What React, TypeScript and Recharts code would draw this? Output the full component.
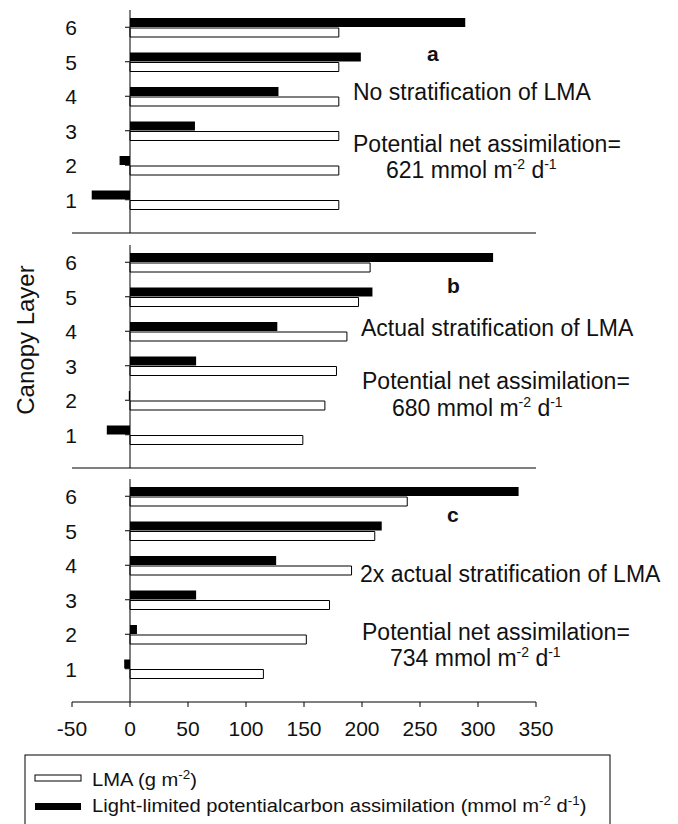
import React from 'react'
import { BarChart, Bar, XAxis, YAxis, ReferenceLine } from 'recharts'

// canopy layers, top of canopy first
const layers = ['6', '5', '4', '3', '2', '1']

// panel a: no stratification of LMA
const lmaA = [180, 180, 180, 180, 180, 180]
const assimA = [289, 199, 128, 56, -9, -33]

// panel b: actual stratification
const lmaB = [207, 197, 187, 178, 168, 149]
const assimB = [313, 209, 127, 57, -1, -20]

// panel c: 2x actual stratification
const lmaC = [239, 211, 191, 172, 152, 115]
const assimC = [335, 217, 126, 57, 6, -5]

const xTicks = [-50, 0, 50, 100, 150, 200, 250, 300, 350]

const FONT = 'Arial, "Liberation Sans", sans-serif'
const CHART_W = 678
const MARGIN = { top: 10, right: 142, left: 12, bottom: 0 }
const Y_AXIS_W = 60
const PLOT_LEFT = MARGIN.left + Y_AXIS_W
const PLOT_RIGHT = CHART_W - MARGIN.right
const zeroX =
  PLOT_LEFT + ((0 - xTicks[0]) / (xTicks[xTicks.length - 1] - xTicks[0])) * (PLOT_RIGHT - PLOT_LEFT)

function LayerTick(props: any) {
  const { y, payload } = props
  return (
    <g>
      <line x1={zeroX - 5} x2={zeroX} y1={y} y2={y} stroke="#000" strokeWidth={1} />
      <text x={71} y={y} dy={8} textAnchor="middle" fontSize={21} fontFamily={FONT} fill="#111">
        {payload.value}
      </text>
    </g>
  )
}

interface PanelProps {
  lma: number[]
  assim: number[]
  top: number
  labels?: boolean
}

function Panel({ lma, assim, top, labels }: PanelProps) {
  const data = layers.map((layer, i) => ({ layer, lma: lma[i], assim: assim[i] }))
  const axisH = labels ? 67 : 27
  return (
    <div style={{ position: 'absolute', left: 0, top }}>
      <BarChart
        width={CHART_W}
        height={10 + 223 + axisH}
        data={data}
        layout="vertical"
        margin={MARGIN}
        barSize={9}
        barGap={1}
      >
        <XAxis
          type="number"
          domain={[-50, 350]}
          ticks={xTicks}
          interval={0}
          height={axisH}
          axisLine={{ stroke: '#000' }}
          tickLine={{ stroke: '#000' }}
          tickSize={5}
          tickMargin={14}
          tick={labels ? { fontSize: 21, fill: '#111', fontFamily: FONT } : false}
        />
        <YAxis
          type="category"
          dataKey="layer"
          width={Y_AXIS_W}
          axisLine={false}
          tickLine={false}
          padding={{ top: 0, bottom: 16 }}
          tick={<LayerTick />}
        />
        <ReferenceLine x={0} stroke="#000" strokeWidth={1} />
        <Bar dataKey="assim" fill="#000" isAnimationActive={false} />
        <Bar dataKey="lma" fill="#fff" stroke="#000" strokeWidth={1} isAnimationActive={false} />
      </BarChart>
    </div>
  )
}

function Sup({ children }: { children: string }) {
  return (
    <tspan dy={-9} fontSize={14}>
      {children}
    </tspan>
  )
}

function Rate({ x, y, value }: { x: number; y: number; value: string }) {
  return (
    <text x={x} y={y} fontSize={23} fontFamily={FONT} fill="#111">
      {value} mmol m<Sup>-2</Sup>
      <tspan dy={9}> d</tspan>
      <Sup>-1</Sup>
    </text>
  )
}

export default function App() {
  const txt = { fontSize: 23, fontFamily: FONT, fill: '#111' }
  const letter = { fontSize: 21, fontFamily: FONT, fill: '#111', fontWeight: 700 }
  return (
    <div style={{ position: 'absolute', left: 0, top: 0, width: 678, height: 824, background: '#fff', overflow: 'hidden' }}>
      <Panel lma={lmaA} assim={assimA} top={0} />
      <Panel lma={lmaB} assim={assimB} top={235} />
      <Panel lma={lmaC} assim={assimC} top={469} labels />

      <svg width={678} height={824} style={{ position: 'absolute', left: 0, top: 0, pointerEvents: 'none' }}>
        <text x={0} y={0} transform="translate(34 340) rotate(-90)" textAnchor="middle" fontSize={24} fontFamily={FONT} fill="#111">
          Canopy Layer
        </text>

        {/* panel a */}
        <text x={427} y={61} {...letter}>a</text>
        <text x={353} y={100} {...txt}>No stratification of LMA</text>
        <text x={353} y={152} {...txt}>Potential net assimilation=</text>
        <Rate x={386} y={178} value="621" />

        {/* panel b */}
        <text x={447} y={293} {...letter}>b</text>
        <text x={361} y={336} {...txt}>Actual stratification of LMA</text>
        <text x={362} y={389} {...txt}>Potential net assimilation=</text>
        <Rate x={392} y={416} value="680" />

        {/* panel c */}
        <text x={447} y={522} {...letter}>c</text>
        <text x={360} y={582} {...txt}>2x actual stratification of LMA</text>
        <text x={362} y={640} {...txt}>Potential net assimilation=</text>
        <Rate x={390} y={666} value="734" />

        {/* legend */}
        <rect x={25} y={755} width={585} height={90} fill="none" stroke="#000" strokeWidth={1} />
        <rect x={35} y={775} width={46} height={6} fill="#fff" stroke="#000" strokeWidth={1} />
        <rect x={35} y={803} width={46} height={7} fill="#000" />
        <g transform="translate(92 786) scale(1.12 1)">
          <text x={0} y={0} fontSize={18} fontFamily={FONT} fill="#111">
            LMA (g m<tspan dy={-7} fontSize={12}>-2</tspan>
            <tspan dy={7}>)</tspan>
          </text>
        </g>
        <g transform="translate(92 812) scale(1.12 1)">
          <text x={0} y={0} fontSize={18} fontFamily={FONT} fill="#111">
            Light-limited potentialcarbon assimilation (mmol m<tspan dy={-7} fontSize={12}>-2</tspan>
            <tspan dy={7}> d</tspan>
            <tspan dy={-7} fontSize={12}>-1</tspan>
            <tspan dy={7}>)</tspan>
          </text>
        </g>
      </svg>
    </div>
  )
}
